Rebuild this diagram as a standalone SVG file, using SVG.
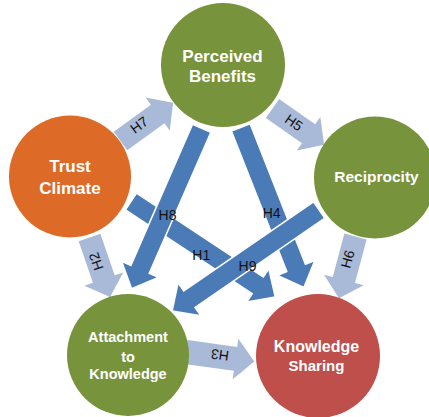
<svg xmlns="http://www.w3.org/2000/svg" width="429" height="417" viewBox="0 0 429 417">
<style>
.lt{fill:#A8BAD7}
.dk{fill:#4A7BB6;stroke:#fff;stroke-width:1.5;stroke-linejoin:miter}
.lbl{font-family:"Liberation Sans",Arial,sans-serif;font-size:14px;fill:#111;text-anchor:middle;dominant-baseline:central}
.nt{font-family:"Liberation Sans",Arial,sans-serif;font-weight:bold;fill:#fff;text-anchor:middle}
.g{fill:#77933C}
</style>
<rect width="429" height="417" fill="#fff"/>
<g id="connectors">
  <g id="H7"><path class="lt" transform="translate(120.5,141) rotate(-36)" d="M0,-11.5H46V-20.5L65,0L46,20.5V11.5H0Z"/><text class="lbl" transform="translate(139,125) rotate(-36)">H7</text></g>
  <g id="H5"><path class="lt" transform="translate(272.5,108.5) rotate(35)" d="M0,-11.5H44V-20.5L63,0L44,20.5V11.5H0Z"/><text class="lbl" transform="translate(294,122.5) rotate(35)">H5</text></g>
  <g id="H2"><path class="lt" transform="translate(89.5,237.5) rotate(71)" d="M0,-11.5H44V-20.5L63,0L44,20.5V11.5H0Z"/><text class="lbl" transform="translate(96,261.5) rotate(-109)">H2</text></g>
  <g id="H6"><path class="lt" transform="translate(355.5,236.5) rotate(105)" d="M0,-11.5H45V-20.5L64,0L45,20.5V11.5H0Z"/><text class="lbl" transform="translate(347.5,259) rotate(-75)">H6</text></g>
  <g id="H3"><path class="lt" transform="translate(186,352) rotate(8)" d="M0,-12H50V-20.5L69,0L50,20.5V12H0Z"/><text class="lbl" transform="translate(220,355) rotate(188)">H3</text></g>
  <g id="H4"><path class="dk" transform="translate(240.8,127.5) rotate(68.5)" d="M0,-10H151V-20L172,0L151,20V10H0Z"/><text class="lbl" x="271.7" y="213">H4</text></g>
  <g id="H1"><path class="dk" transform="translate(131,201.5) rotate(33.5)" d="M0,-10H152V-20L173,0L152,20V10H0Z"/><text class="lbl" x="201.3" y="255">H1</text></g>
  <g id="H8"><path class="dk" transform="translate(201.7,128.3) rotate(113.6)" d="M0,-10H154V-20L175,0L154,20V10H0Z"/><text class="lbl" x="167.5" y="215">H8</text></g>
  <g id="H9"><path class="dk" transform="translate(319.2,210) rotate(145.5)" d="M0,-10H157.5V-20L178.5,0L157.5,20V10H0Z"/><text class="lbl" x="247.5" y="265.5">H9</text></g>
</g>
<g id="perceived-benefits">
  <circle class="g" cx="223" cy="65" r="62"/>
  <text class="nt" x="222.5" y="61.5" font-size="17">Perceived</text>
  <text class="nt" x="222.5" y="82" font-size="17">Benefits</text>
</g>
<g id="trust-climate">
  <circle cx="70" cy="176.5" r="61" fill="#DD6B27"/>
  <text class="nt" x="70" y="171.5" font-size="17">Trust</text>
  <text class="nt" x="70" y="193.5" font-size="17">Climate</text>
</g>
<g id="reciprocity">
  <circle class="g" cx="375" cy="177.5" r="61"/>
  <text class="nt" x="376.5" y="181.5" font-size="15.5">Reciprocity</text>
</g>
<g id="attachment-to-knowledge">
  <circle class="g" cx="128" cy="355" r="61"/>
  <text class="nt" x="128" y="342" font-size="14.5">Attachment</text>
  <text class="nt" x="128" y="361.5" font-size="14.5">to</text>
  <text class="nt" x="128" y="379" font-size="14.5">Knowledge</text>
</g>
<g id="knowledge-sharing">
  <circle cx="318" cy="356" r="62" fill="#BE4F4B"/>
  <text class="nt" x="316.5" y="352" font-size="16">Knowledge</text>
  <text class="nt" x="316.5" y="371" font-size="15">Sharing</text>
</g>
</svg>
